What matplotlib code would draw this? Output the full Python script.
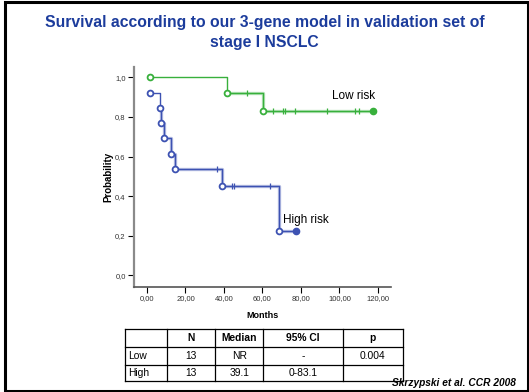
import matplotlib
matplotlib.use("Agg")
import matplotlib.pyplot as plt
from matplotlib.patches import Rectangle

plt.rcParams['font.family'] = ['Liberation Sans', 'DejaVu Sans']

# Kaplan-Meier data
low_t = [1.6, 41.7, 60.3, 117.2]
low_s = [1.0, 0.923, 0.83, 0.83]
low_cens_t = [51.8, 65.6, 70.5, 71.5, 76.7, 93.7, 108.0, 110.0]
low_cens_s = [0.923, 0.83, 0.83, 0.83, 0.83, 0.83, 0.83, 0.83]

high_t = [1.6, 6.9, 7.5, 8.7, 12.3, 14.7, 39.0, 68.7, 77.4]
high_s = [0.923, 0.846, 0.769, 0.692, 0.615, 0.538, 0.449, 0.224, 0.224]
high_cens_t = [36.5, 44.3, 45.4, 64.1]
high_cens_s = [0.538, 0.449, 0.449, 0.449]

xticks = [0, 20, 40, 60, 80, 100, 120]
yticks = [0.0, 0.2, 0.4, 0.6, 0.8, 1.0]

col_labels = ["", "N", "Median", "95% CI", "p"]
rows = [["Low", "13", "NR", "-", "0.004"],
        ["High", "13", "39.1", "0-83.1", ""]]

green = '#38b03c'
blue = '#3d52b2'

fig = plt.figure(figsize=(5.29, 3.92), dpi=100)
W, H = 529, 392

# slide frame
fig.patches.append(Rectangle((4.5 / W, 1.5 / H), 523 / W, 389 / H, transform=fig.transFigure,
                             fill=False, edgecolor='black', lw=2.2))

fig.text(0.5, 1 - 23 / H, "Survival according to our 3-gene model in validation set of",
         ha='center', va='center', fontsize=11.3, fontweight='bold', color='#1c3c9c')
fig.text(0.5, 1 - 43 / H, "stage I NSCLC",
         ha='center', va='center', fontsize=11.3, fontweight='bold', color='#1c3c9c')

ax = fig.add_axes([134 / W, 1 - 287 / H, (390.7 - 134) / W, 220 / H])
ax.set_xlim(-6.75, 126.6)
ax.set_ylim(-0.059, 1.052)

for t, s, ct, cs, c in [(low_t, low_s, low_cens_t, low_cens_s, green),
                        (high_t, high_s, high_cens_t, high_cens_s, blue)]:
    ax.plot(t[1:], s[1:], drawstyle='steps-post', color=c, lw=2.4, alpha=0.35)
    ax.plot(t, s, drawstyle='steps-post', color=c, lw=1.0)
    ax.plot(t[:-1], s[:-1], 'o', mfc='white', mec=c, mew=1.3, ms=4.2, ls='none')
    ax.plot(t[-1], s[-1], 'o', color=c, ms=4.5)
    ax.plot(ct, cs, '|', color=c, ms=4.5, mew=0.9, ls='none')

ax.text(118.5, 0.875, "Low risk", ha='right', va='bottom', fontsize=8.5)
ax.text(70.5, 0.28, "High risk", ha='left', va='center', fontsize=8.5)

ax.set_xticks(xticks)
ax.set_xticklabels([f"{v:.2f}".replace('.', ',') for v in xticks])
ax.set_yticks(yticks)
ax.set_yticklabels([f"{v:.1f}".replace('.', ',') for v in yticks])
ax.tick_params(labelsize=5.5, colors='#333333', length=4, width=0.8, pad=2)
ax.tick_params(axis='both', color='black')
for side in ['top', 'right']:
    ax.spines[side].set_visible(False)
ax.spines['left'].set_color('#8a8a8a')
ax.spines['left'].set_linewidth(1.6)
ax.spines['bottom'].set_color('#555555')
ax.spines['bottom'].set_linewidth(1.2)
ax.set_xlabel("Months", fontsize=6.5, fontweight='bold', labelpad=6)
ax.set_ylabel("Probability", fontsize=7, fontweight='bold', labelpad=1.5)

# summary table
col_x = [125, 167.3, 215, 263.3, 342.7, 402.7]
row_y = [329, 346.5, 365, 381]
tab = fig.add_axes([0, 0, 1, 1])
tab.set_xlim(0, W)
tab.set_ylim(H, 0)
tab.axis('off')
for x in col_x:
    tab.plot([x, x], [row_y[0], row_y[-1]], color='black', lw=0.9)
for y in row_y:
    tab.plot([col_x[0], col_x[-1]], [y, y], color='black', lw=0.9)
all_rows = [col_labels] + rows
for r, vals in enumerate(all_rows):
    yc = (row_y[r] + row_y[r + 1]) / 2
    for c, v in enumerate(vals):
        if c == 0:
            tab.text(col_x[0] + 3, yc, v, ha='left', va='center', fontsize=7.4)
        else:
            tab.text((col_x[c] + col_x[c + 1]) / 2, yc, v, ha='center', va='center',
                     fontsize=7.4, fontweight='bold' if r == 0 else 'normal')

tab.text(516, 383.5, "Skrzypski et al. CCR 2008", ha='right', va='center',
         fontsize=7.3, fontweight='bold', style='italic')

fig.savefig("out.png", dpi=100)
